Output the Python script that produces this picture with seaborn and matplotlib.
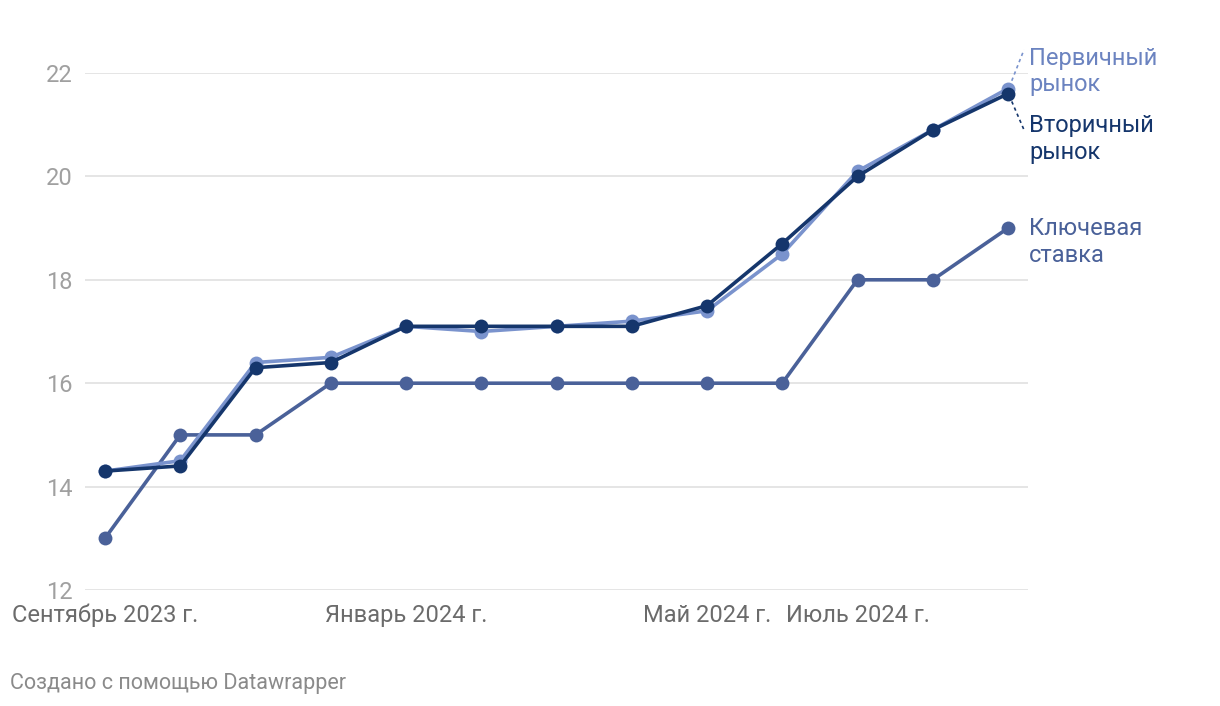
import matplotlib
matplotlib.use("Agg")
import matplotlib.pyplot as plt
import seaborn as sns
import pandas as pd

months = ["2023-09", "2023-10", "2023-11", "2023-12", "2024-01", "2024-02", "2024-03",
          "2024-04", "2024-05", "2024-06", "2024-07", "2024-08", "2024-09"]
key_rate = [13, 15, 15, 16, 16, 16, 16, 16, 16, 16, 18, 18, 19]
primary = [14.3, 14.5, 16.4, 16.5, 17.1, 17.0, 17.1, 17.2, 17.4, 18.5, 20.1, 20.9, 21.7]
secondary = [14.3, 14.4, 16.3, 16.4, 17.1, 17.1, 17.1, 17.1, 17.5, 18.7, 20.0, 20.9, 21.6]
series_names = ["Ключевая ставка", "Первичный рынок", "Вторичный рынок"]
label_texts = ["Ключевая\nставка", "Первичный\nрынок", "Вторичный\nрынок"]
tick_idx = [0, 4, 8, 10]
tick_labels = ["Сентябрь 2023 г.", "Январь 2024 г.", "Май 2024 г.", "Июль 2024 г."]
y_ticks = [12, 14, 16, 18, 20, 22]

colors = {"Ключевая ставка": "#4a6199", "Первичный рынок": "#7a93cd", "Вторичный рынок": "#15366c"}
label_colors = {"Ключевая ставка": "#4a6199", "Первичный рынок": "#6b83c0", "Вторичный рынок": "#15366c"}

rows = []
for name, vals in zip(series_names, [key_rate, primary, secondary]):
    for i, v in enumerate(vals):
        rows.append({"idx": i, "value": v, "series": name})
df = pd.DataFrame(rows)

sns.set_theme(style="white")
plt.rcParams["font.family"] = ["Roboto", "DejaVu Sans"]

fig = plt.figure(figsize=(12.2, 7.06), dpi=100)
ax = fig.add_axes([85 / 1220, 1 - 590 / 706, (1028 - 85) / 1220, (590 - 73) / 706])

for name in series_names:
    sub = df[df["series"] == name]
    sns.lineplot(data=sub, x="idx", y="value", ax=ax, color=colors[name], linewidth=2.6,
                 marker="o", markersize=10, markeredgewidth=0, clip_on=False, zorder=3)

ax.set_xlim(-20 / 75.25, 12 + 20 / 75.25)
ax.set_ylim(12, 22)
ax.set_yticks(y_ticks)
ax.set_yticklabels([str(t) for t in y_ticks], color="#a0a0a0", fontsize=17)
ax.set_xticks(tick_idx)
ax.set_xticklabels(tick_labels, color="#6b6b6b", fontsize=17)
ax.tick_params(axis="x", length=0, pad=10)
ax.tick_params(axis="y", length=0, pad=9)
ax.set_xlabel("")
ax.set_ylabel("")
ax.grid(axis="y", color="#e0e0e0", linewidth=1.2)
ax.grid(axis="x", visible=False)
for s in ax.spines.values():
    s.set_visible(False)
if ax.get_legend():
    ax.get_legend().remove()

# Direct labels
lab_x = 12 + 21 / 75.25
ax.text(lab_x, 18.73, label_texts[0], color=label_colors["Ключевая ставка"], fontsize=17,
        va="center", ha="left", linespacing=1.2)
ax.text(lab_x, 22.03, label_texts[1], color=label_colors["Первичный рынок"], fontsize=17,
        va="center", ha="left", linespacing=1.2, clip_on=False)
ax.text(lab_x, 20.72, label_texts[2], color=label_colors["Вторичный рынок"], fontsize=17,
        va="center", ha="left", linespacing=1.2)
# connectors
ax.plot([12.05, 12 + 16 / 75.25], [21.85, 22.45], ls=(0, (2, 2)), color=colors["Первичный рынок"],
        lw=1.2, clip_on=False)
ax.plot([12.05, 12 + 16 / 75.25], [21.45, 20.9], ls=(0, (2, 2)), color=colors["Вторичный рынок"],
        lw=1.2, clip_on=False)

fig.text(10 / 1220, 1 - 683 / 706, "Создано с помощью Datawrapper", color="#8a8a8a", fontsize=15.5,
         va="center", ha="left")

fig.savefig("out.png", dpi=100, facecolor="white")
